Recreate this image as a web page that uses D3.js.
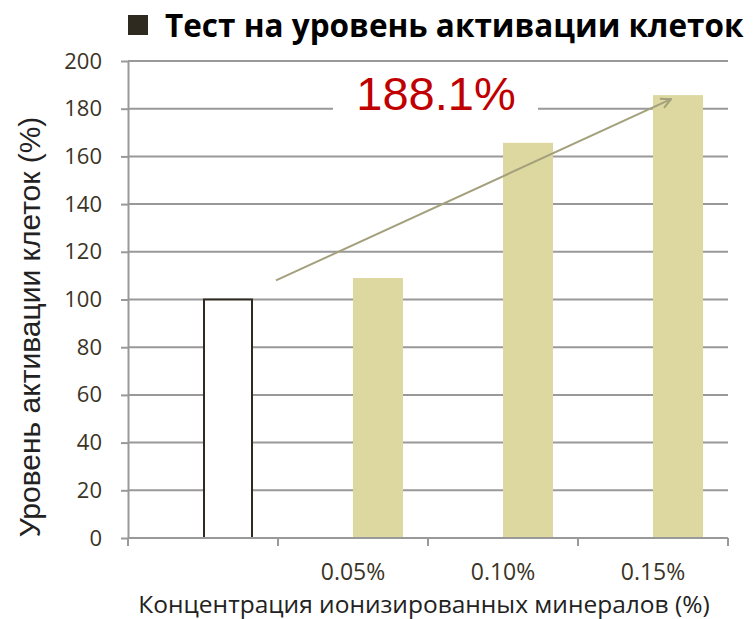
<!DOCTYPE html>
<html>
<head>
<meta charset="utf-8">
<script src="https://cdn.jsdelivr.net/npm/d3@7"></script>
<style>
	body { margin: 0; background: #fff; }
	svg { display: block; }
</style>
</head>
<body>
<svg width="754" height="619"></svg>
<script>
var categories = ['', '0.05%', '0.10%', '0.15%'];
var values = [100, 109, 165.7, 185.7];
var yTicks = [0, 20, 40, 60, 80, 100, 120, 140, 160, 180, 200];
var titleText = 'Тест на уровень активации клеток';
var xTitle = 'Концентрация ионизированных минералов (%)';
var yTitle = 'Уровень активации клеток (%)';
var growthLabel = '188.1%';
// arrow ends: [category, value]
var arrowFrom = ['0.05%', 108];
var arrowTo = ['0.15%', 184];

var svg = d3.select('svg'),
	margin = {top: 61, right: 26, bottom: 81, left: 128},
	width = 754 - margin.left - margin.right,
	height = 619 - margin.top - margin.bottom,
	g = svg.append('g').attr('transform', 'translate(' + margin.left + ',' + margin.top + ')');

var x = d3.scaleBand()
	.domain(categories)
	.range([0, width]);

var y = d3.scaleLinear()
	.domain([0, 200])
	.range([height, 0]);

var gridColor = '#999';
var barWidth = 50;

// gridlines
g.append('g')
	.selectAll('line')
	.data(yTicks.slice(1))
	.enter().append('line')
	.attr('x1', 0)
	.attr('x2', width)
	.attr('y1', function(d) { return y(d); })
	.attr('y2', function(d) { return y(d); })
	.attr('stroke', gridColor)
	.attr('stroke-width', 2);

// bars start at the band centre
g.append('g')
	.selectAll('rect')
	.data(values)
	.enter().append('rect')
	.attr('x', function(d, i) { return x(categories[i]) + x.bandwidth() / 2 + (i === 0 ? 1 : 0); })
	.attr('y', function(d) { return y(d); })
	.attr('width', function(d, i) { return i === 0 ? barWidth - 2 : barWidth; })
	.attr('height', function(d) { return height - y(d); })
	.attr('fill', function(d, i) { return i === 0 ? '#fff' : '#DDD8A0'; })
	.attr('stroke', function(d, i) { return i === 0 ? '#2E2A20' : 'none'; })
	.attr('stroke-width', 2);

// y axis
var yAxis = g.append('g')
	.call(d3.axisLeft(y).tickValues(yTicks).tickSize(7).tickPadding(19).tickSizeOuter(0));
yAxis.select('.domain').attr('stroke', gridColor).attr('stroke-width', 2);
yAxis.selectAll('.tick line').attr('stroke', gridColor).attr('stroke-width', 2);
yAxis.selectAll('.tick text')
	.attr('fill', '#3A3426')
	.style('font-family', '"Open Sans", sans-serif')
	.style('font-size', '22px');

// x axis: ticks on category boundaries
var xAxis = g.append('g')
	.attr('transform', 'translate(0,' + height + ')');
xAxis.append('line')
	.attr('x1', 0).attr('x2', width)
	.attr('stroke', gridColor).attr('stroke-width', 2);
xAxis.selectAll('.bound')
	.data(categories.concat(['end']))
	.enter().append('line')
	.attr('class', 'bound')
	.attr('x1', function(d, i) { return i * x.step(); })
	.attr('x2', function(d, i) { return i * x.step(); })
	.attr('y1', 0).attr('y2', 8)
	.attr('stroke', gridColor).attr('stroke-width', 2);
xAxis.selectAll('.lab')
	.data(categories)
	.enter().append('text')
	.attr('class', 'lab')
	.attr('x', function(d) { return x(d) + x.bandwidth() / 2; })
	.attr('y', 42)
	.attr('text-anchor', 'middle')
	.attr('fill', '#3A3426')
	.style('font-family', '"Open Sans", sans-serif')
	.style('font-size', '23px')
	.text(function(d) { return d; });

// axis titles
svg.append('text')
	.attr('x', 424)
	.attr('y', 613)
	.attr('text-anchor', 'middle')
	.attr('fill', '#222')
	.style('font-family', '"Open Sans", sans-serif')
	.style('font-size', '24.5px')
	.text(xTitle);

svg.append('text')
	.attr('transform', 'translate(40,' + 327 + ') rotate(-90)')
	.attr('text-anchor', 'middle')
	.attr('fill', '#222')
	.style('font-family', '"Liberation Sans", Arial, sans-serif')
	.style('font-size', '30px')
	.text(yTitle);

// growth arrow
svg.append('defs').append('marker')
	.attr('id', 'head')
	.attr('viewBox', '0 0 12 12')
	.attr('refX', 11).attr('refY', 6)
	.attr('markerWidth', 12).attr('markerHeight', 12)
	.attr('markerUnits', 'userSpaceOnUse')
	.attr('orient', 'auto')
	.append('path')
	.attr('d', 'M1,1 L11,6 L1,11')
	.attr('fill', 'none')
	.attr('stroke', '#A3A07C')
	.attr('stroke-width', 2);

g.append('line')
	.attr('x1', x(arrowFrom[0]) - 2)
	.attr('y1', y(arrowFrom[1]))
	.attr('x2', x(arrowTo[0]) + x.bandwidth() / 2 + 18)
	.attr('y2', y(arrowTo[1]))
	.attr('stroke', '#A3A07C')
	.attr('stroke-width', 2)
	.attr('marker-end', 'url(#head)');

// label with white box
var lab = g.append('g');
lab.append('rect')
	.attr('x', x(categories[1]) + 55)
	.attr('y', y(196))
	.attr('width', 205)
	.attr('height', y(172) - y(196))
	.attr('fill', '#fff');
lab.append('text')
	.attr('x', x(categories[1]) + 158)
	.attr('y', y(179.3))
	.attr('text-anchor', 'middle')
	.attr('fill', '#C00000')
	.style('font-family', '"Liberation Sans", Arial, sans-serif')
	.style('font-size', '47px')
	.text(growthLabel);

// title
var t = svg.append('g');
t.append('rect')
	.attr('x', 128).attr('y', 15)
	.attr('width', 20).attr('height', 20)
	.attr('fill', '#2E2A20');
t.append('text')
	.attr('x', 165)
	.attr('y', 37)
	.attr('fill', '#000')
	.style('font-family', '"Open Sans", sans-serif')
	.style('font-weight', 'bold')
	.style('font-size', '31.5px')
	.text(titleText);
</script>
</body>
</html>
